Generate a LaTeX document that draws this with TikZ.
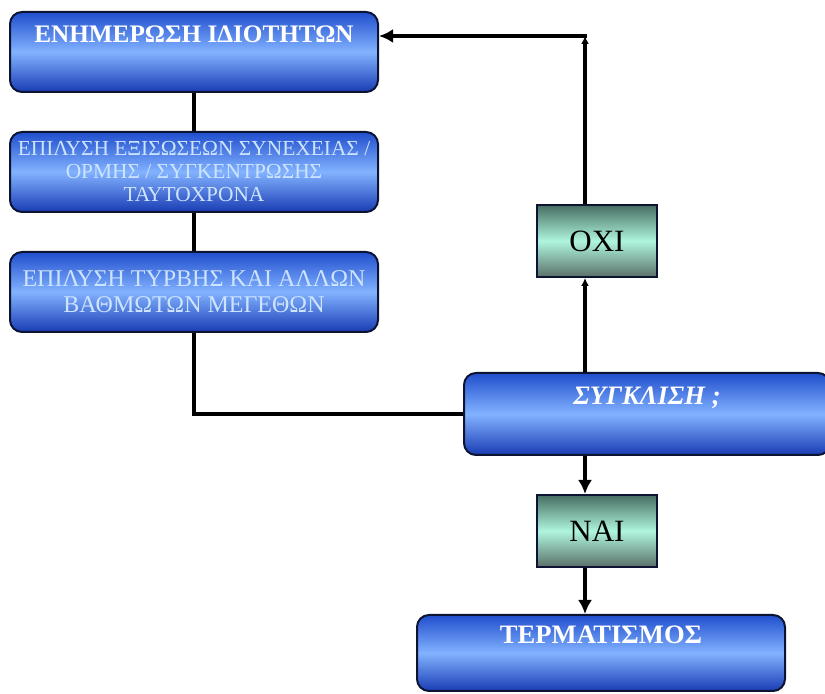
\documentclass[tikz,border=0pt]{standalone}
\usepackage{fontspec}
\setmainfont{Liberation Serif}
\usepackage{tikz}
\usetikzlibrary{arrows.meta}
\definecolor{boxdark}{RGB}{32,78,205}
\definecolor{boxdeep}{RGB}{25,60,180}
\definecolor{boxlight}{RGB}{130,178,255}
\definecolor{boxedge}{RGB}{12,20,50}
\definecolor{mintdark}{RGB}{70,110,98}
\definecolor{mintgray}{RGB}{90,112,105}
\definecolor{mintlight}{RGB}{175,245,222}
\definecolor{paletext}{RGB}{205,228,255}
\tikzstyle{stage}=[rectangle, rounded corners=6pt, draw=boxedge, line width=1pt, top color=boxdark, bottom color=boxdeep, middle color=boxlight, minimum width=184pt, minimum height=40pt, text=white, font=\bfseries\fontsize{12.6}{14}\selectfont]
\tikzstyle{raised}=[text height=8pt, text depth=17.4pt]
\tikzstyle{pale}=[text=paletext, align=center, font=\fontsize{10.7}{11.5}\selectfont]
\tikzstyle{answer}=[rectangle, draw=boxedge, line width=1pt, top color=mintdark, bottom color=mintgray, middle color=mintlight, minimum width=60pt, minimum height=36pt, font=\fontsize{15.5}{18}\selectfont]
\tikzstyle{arrow}=[draw=black, line width=2pt, >={Latex[length=7pt, width=7pt]}]

\begin{document}
\begin{tikzpicture}[x=0.5pt, y=-0.5pt]
	   \useasboundingbox (0, 0) rectangle (825, 694);
	   \clip (0, 0) rectangle (825, 694);
	   \begin{scope}
		   \node (0) at (194, 52)[stage, raised] {ΕΝΗΜΕΡΩΣΗ ΙΔΙΟΤΗΤΩΝ};
		   \node (1) at (194, 172)[stage, pale] {ΕΠΙΛΥΣΗ ΕΞΙΣΩΣΕΩΝ ΣΥΝΕΧΕΙΑΣ /\\ ΟΡΜΗΣ / ΣΥΓΚΕΝΤΡΩΣΗΣ\\ ΤΑΥΤΟΧΡΟΝΑ};
		   \node (2) at (194, 292)[stage, pale, font=\fontsize{12}{13}\selectfont] {ΕΠΙΛΥΣΗ ΤΥΡΒΗΣ ΚΑΙ ΑΛΛΩΝ\\ ΒΑΘΜΩΤΩΝ ΜΕΓΕΘΩΝ};
		   \node (3) at (647, 414)[stage, raised, minimum width=183pt, minimum height=41pt, font=\bfseries\itshape\fontsize{13.3}{15}\selectfont] {ΣΥΓΚΛΙΣΗ ;};
		   \node (4) at (597, 241)[answer] {ΟΧΙ};
		   \node (5) at (597, 531)[answer] {ΝΑΙ};
		   \node (6) at (601, 653)[stage, raised, minimum height=38pt, font=\bfseries\fontsize{13.3}{15}\selectfont] {ΤΕΡΜΑΤΙΣΜΟΣ};
		   \coordinate (7) at (585, 0);
		   \coordinate (8) at (585, 36);
	   \end{scope}
	   \begin{scope}
		   \path [arrow] (0) edge (1);
		   \path [arrow] (1) edge (2);
		   \draw [arrow] (2) |- (3);
		   \draw [arrow, -{Latex[length=4pt, width=4pt]}] (7 |- 3.north) -- (7 |- 4.south);
		   \draw [arrow, -{Latex[length=4pt, width=4pt]}] (7 |- 4.north) -- (8);
		   \draw [arrow, ->] ([xshift=1pt]8) -- (8 -| 0.east);
		   \draw [arrow, ->] (7 |- 3.south) -- (7 |- 5.north);
		   \draw [arrow, ->] (7 |- 5.south) -- (7 |- 6.north);
	   \end{scope}
\end{tikzpicture}
\end{document}
